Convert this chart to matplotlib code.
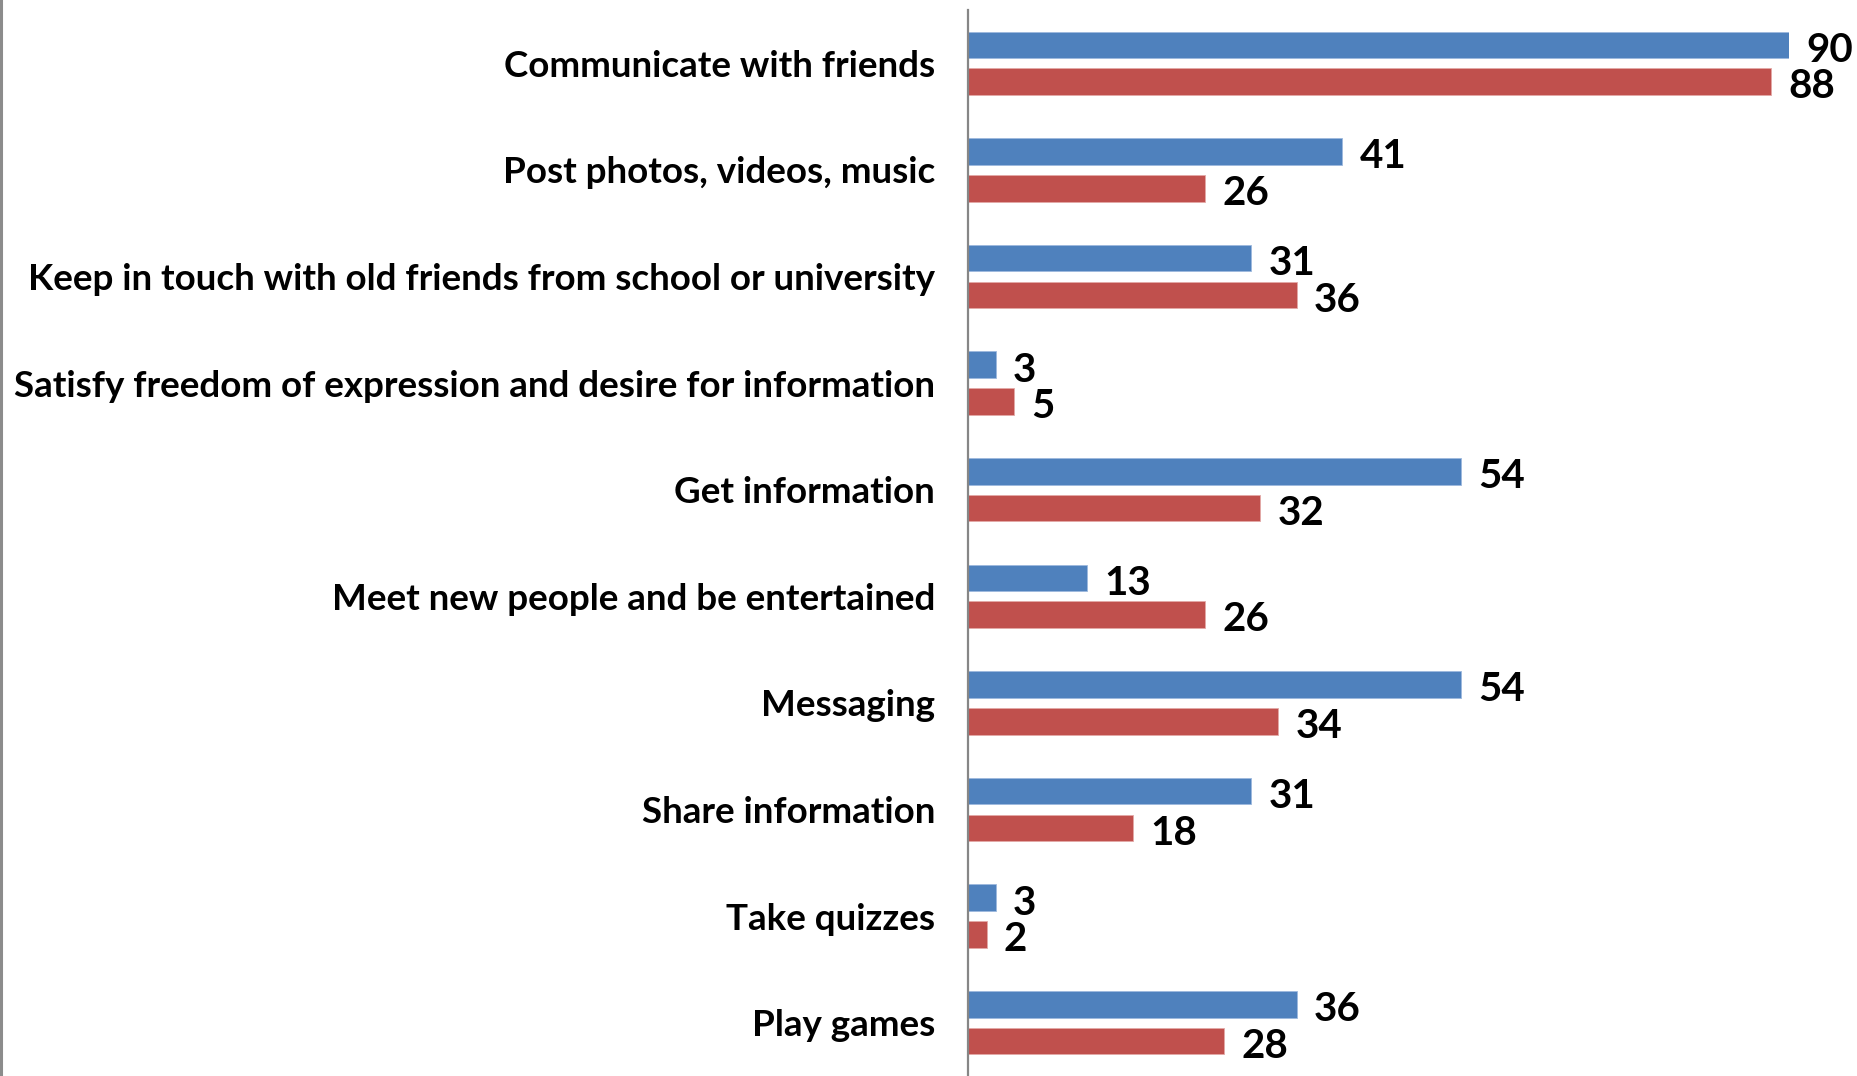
import matplotlib.pyplot as plt
import numpy as np
from matplotlib.lines import Line2D

categories = [
    "Communicate with friends",
    "Post photos, videos, music",
    "Keep in touch with old friends from school or university",
    "Satisfy freedom of expression and desire for information",
    "Get information",
    "Meet new people and be entertained",
    "Messaging",
    "Share information",
    "Take quizzes",
    "Play games",
]
series_1 = [90, 41, 31, 3, 54, 13, 54, 31, 3, 36]
series_2 = [88, 26, 36, 5, 32, 26, 34, 18, 2, 28]

BLUE = "#4F81BD"
RED = "#C0504D"

plt.rcParams['font.family'] = ['Lato', 'DejaVu Sans']

fig = plt.figure(figsize=(18.57, 10.76), dpi=100)
ax = fig.add_axes([0.5215, 0.0, 0.9634 - 0.5215, 0.9907])

y = np.arange(len(categories))
h = 0.25
off = 0.172
ax.barh(y - off, series_1, height=h, color=BLUE, edgecolor="#9DB9DE", linewidth=0.6)
ax.barh(y + off, series_2, height=h, color=RED, edgecolor="#E3A9A7", linewidth=0.6)

for yi, v in zip(y - off, series_1):
    ax.text(v + 1.9, yi + 0.05, str(v), va="center", ha="left",
            fontsize=29, fontweight="bold", clip_on=False)
for yi, v in zip(y + off, series_2):
    ax.text(v + 1.9, yi + 0.05, str(v), va="center", ha="left",
            fontsize=29, fontweight="bold", clip_on=False)

ax.set_xlim(0, 90)
ax.set_ylim(len(categories) - 0.5, -0.5)
ax.set_yticks(y)
ax.set_yticklabels(categories, fontsize=26.5, fontweight="bold")
ax.tick_params(axis="y", length=0, pad=24)
ax.set_xticks([])

for s in ["top", "right", "bottom"]:
    ax.spines[s].set_visible(False)
ax.spines["left"].set_color("#868686")
ax.spines["left"].set_linewidth(1.6)

# thin border at the left edge of the image
fig.add_artist(Line2D([0.0008, 0.0008], [0, 1], transform=fig.transFigure,
                      color="#8C8C8C", linewidth=2.2))

fig.savefig("out.png", dpi=100)
